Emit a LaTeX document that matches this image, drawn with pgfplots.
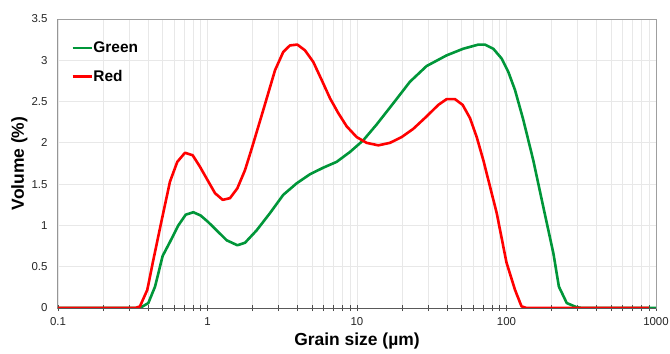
\documentclass[border=0pt]{standalone}
\usepackage{pgfplots}
\pgfplotsset{compat=1.18}
\usepackage{fontspec}
\setmainfont{Liberation Sans}
\definecolor{mygreen}{RGB}{0,150,57}
\definecolor{myred}{RGB}{255,0,0}
\definecolor{gridc}{RGB}{232,232,232}
\begin{document}
\begin{tikzpicture}
\path[use as bounding box] (-58bp,-46bp) rectangle (612bp,308bp);
\begin{axis}[
  at={(0,0)}, anchor=south west,
  scale only axis, width=598bp, height=289bp,
  xmode=log, xmin=0.1, xmax=1000, ymin=0, ymax=3.5,
  log basis x=10,
  xtick={0.1,1,10,100,1000},
  xticklabels={0.1,1,10,100,1000},
  ytick={0,0.5,1,1.5,2,2.5,3,3.5},
  yticklabels={0,0.5,1,1.5,2,2.5,3,3.5},
  minor xtick={0.2,0.3,0.4,0.5,0.6,0.7,0.8,0.9,2,3,4,5,6,7,8,9,20,30,40,50,60,70,80,90,200,300,400,500,600,700,800,900},
  xtick pos=bottom, ytick pos=left,
  xmajorgrids, xminorgrids, ymajorgrids,
  grid style={gridc, line width=0.8bp},
  minor grid style={gridc, line width=0.8bp},
  axis line style={draw=gray!75, line width=1bp},
  tick align=center,
  major tick length=6bp, minor tick length=6bp,
  xtick style={draw=black!70, line width=0.8bp},
  ytick style={draw=none},
  tick label style={font=\fontsize{11.5}{13}\selectfont, text=black!85},
  xticklabel style={yshift=-3bp},
  yticklabel style={xshift=-4bp},
  /pgf/number format/assume math mode=true,
  xlabel={Grain size (µm)},
  ylabel={Volume (\%)},
  every axis x label/.style={at={(axis description cs:0.5,-0.114)}, anchor=center, font=\bfseries\fontsize{17.5}{20}\selectfont},
  every axis y label/.style={at={(axis description cs:-0.0644,0.5)}, rotate=90, anchor=center, font=\bfseries\fontsize{17.5}{20}\selectfont},
  legend style={at={(0.017,0.935)}, anchor=north west, draw=none, fill=none,
    font=\bfseries\fontsize{15.5}{18}\selectfont, row sep=12bp,
    nodes={inner xsep=0.5bp}},
  legend cell align=left,
  legend image code/.code={\draw[#1] (0bp,0bp) -- (19bp,0bp);},
]
\addplot[mygreen, line width=2.6bp, line join=round] coordinates {
(0.1,0) (0.35,0) (0.3535,0) (0.402,0.06) (0.446,0.26) (0.501,0.63) (0.561,0.80)
(0.638,1.00) (0.715,1.13) (0.804,1.16) (0.90,1.12) (1.005,1.045) (1.152,0.94)
(1.344,0.82) (1.584,0.76) (1.782,0.79) (2.13,0.94) (2.62,1.15) (3.21,1.37)
(3.95,1.51) (4.85,1.62) (5.96,1.70) (7.31,1.77) (8.98,1.89) (11.0,2.03)
(13.5,2.22) (17.5,2.48) (22.6,2.74) (29.2,2.93) (39.8,3.06) (51.4,3.14)
(64.8,3.19) (71.8,3.19) (81.6,3.14) (92.9,3.02) (102.8,2.86) (114,2.64)
(129.5,2.28) (151,1.79) (176,1.23) (206,0.66) (224,0.26) (253,0.06) (294,0.01)
(320,0) (1000,0)
};
\addlegendentry{Green}
\addplot[myred, line width=2.6bp, line join=round] coordinates {
(0.1,0) (0.33,0) (0.3535,0.02) (0.3957,0.22) (0.434,0.58) (0.494,1.065)
(0.561,1.53) (0.628,1.77) (0.707,1.88) (0.796,1.85) (0.891,1.71) (1.0,1.55)
(1.123,1.39) (1.264,1.31) (1.414,1.33) (1.584,1.45) (1.782,1.67) (1.976,1.93)
(2.363,2.40) (2.83,2.88) (3.21,3.10) (3.56,3.18) (3.99,3.19) (4.49,3.12)
(5.10,2.98) (5.81,2.76) (6.60,2.54) (7.50,2.36) (8.53,2.20) (9.95,2.07)
(11.6,2.00) (13.9,1.97) (16.6,2.00) (19.9,2.07) (23.8,2.17) (29.2,2.32)
(35.0,2.46) (39.8,2.53) (45.2,2.53) (50.9,2.46) (57.0,2.30) (63.2,2.07)
(70.0,1.79) (77.6,1.47) (86.0,1.15) (100,0.55) (114,0.22) (126,0.02) (136,0)
(900,0)
};
\addlegendentry{Red}
\draw[black!65, line width=1bp] (rel axis cs:0,1) -- (rel axis cs:0,0) -- (rel axis cs:1,0);
\end{axis}
\end{tikzpicture}
\end{document}
